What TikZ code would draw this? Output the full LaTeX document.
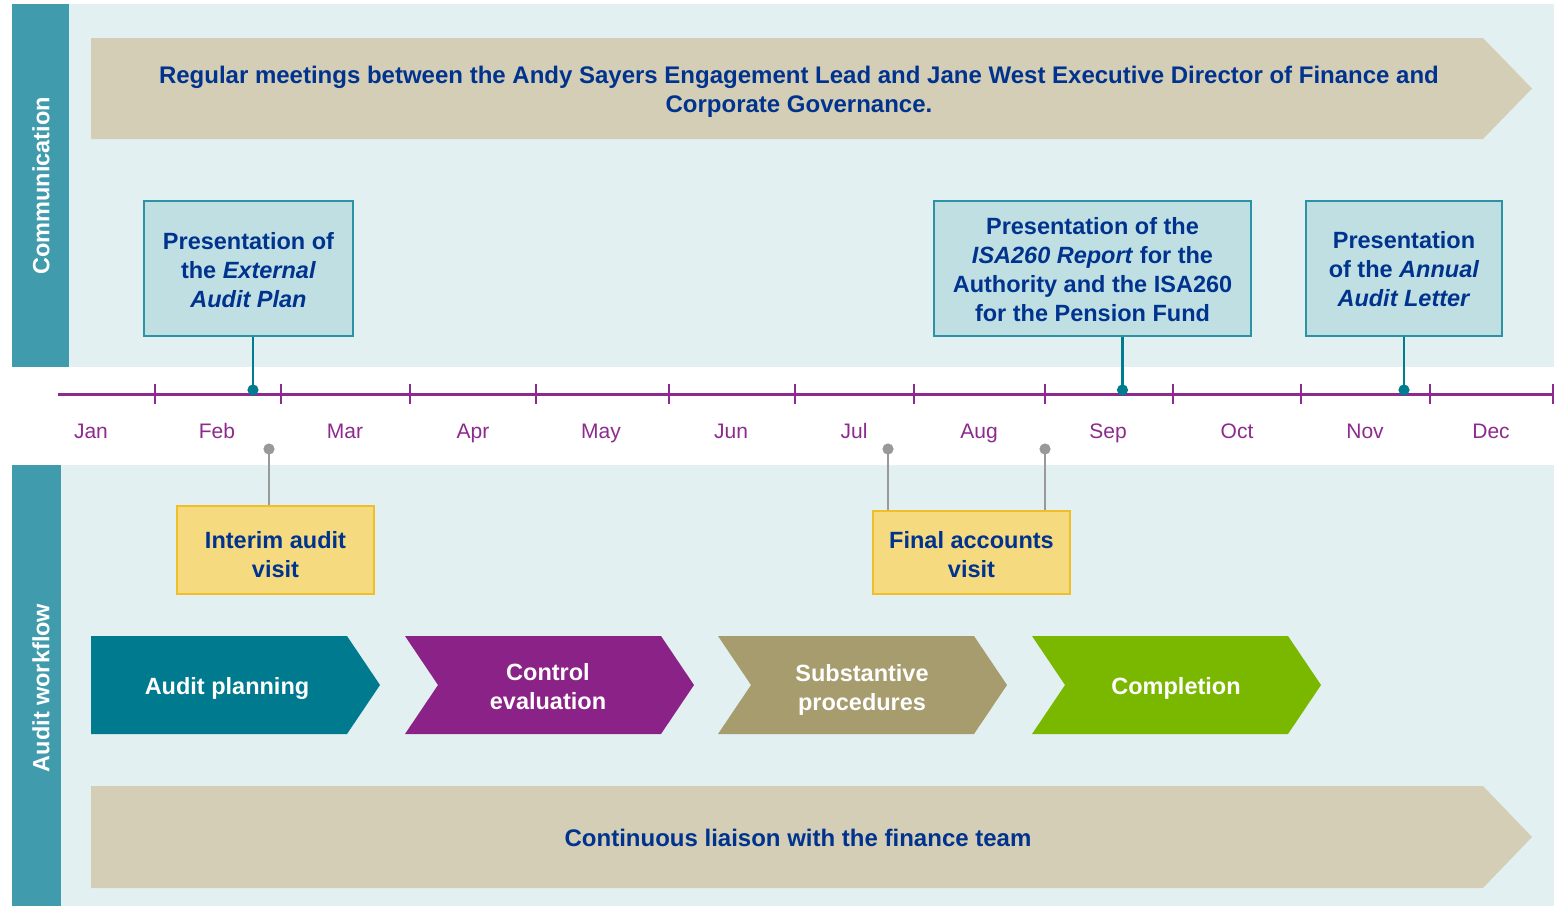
\documentclass[tikz,border=0pt]{standalone}
\usepackage{fontspec}
\setmainfont{Liberation Sans}
\usetikzlibrary{positioning}
\usetikzlibrary{arrows.meta}
\definecolor{sidebar}{HTML}{409CAD}
\definecolor{panelbg}{HTML}{E2F0F2}
\definecolor{tanbar}{HTML}{D4CEB7}
\definecolor{navy}{HTML}{00338D}
\definecolor{axispurple}{HTML}{8D2A8E}
\definecolor{boxfill}{HTML}{BFDFE3}
\definecolor{boxedge}{HTML}{2C93A5}
\definecolor{pinteal}{HTML}{007C91}
\definecolor{visitfill}{HTML}{F5DA80}
\definecolor{visitedge}{HTML}{F0BE28}
\definecolor{pingray}{HTML}{999999}
\definecolor{chevteal}{HTML}{007A8E}
\definecolor{chevpurple}{HTML}{8B2287}
\definecolor{chevolive}{HTML}{A69C6D}
\definecolor{chevgreen}{HTML}{7AB800}
\tikzstyle{sidelabel}=[rotate=90,text=white,font=\fontsize{23.5}{29}\selectfont\bfseries]
\tikzstyle{bannertext}=[text=navy,align=center,font=\fontsize{24}{29}\selectfont\bfseries]
\tikzstyle{event}=[rectangle,draw=boxedge,fill=boxfill,line width=1.5pt,inner sep=0pt]
\tikzstyle{visit}=[rectangle,draw=visitedge,fill=visitfill,line width=1.5pt,inner sep=0pt]
\tikzstyle{boxtext}=[align=center,text=navy,inner sep=0pt,font=\fontsize{23.5}{29}\selectfont\bfseries]
\tikzstyle{evpin}=[draw=pinteal,line width=2.5pt,-{Circle[length=11pt]}]
\tikzstyle{visitpin}=[draw=pingray,line width=2.5pt,-{Circle[length=11pt]}]
\tikzstyle{axisline}=[draw=axispurple,line width=3pt]
\tikzstyle{tick}=[draw=axispurple,line width=2.5pt]
\tikzstyle{month}=[anchor=base,text=axispurple,font=\fontsize{21}{25}\selectfont]
\tikzstyle{chevtext}=[text=white,align=center,font=\fontsize{23.5}{29}\selectfont\bfseries]

\begin{document}
\begin{tikzpicture}[x=1pt,y=-1pt]

    \useasboundingbox[fill=white] (0,0) rectangle (1559,906);

    % panels
    \fill[panelbg] (69,4) rectangle (1554,367);
    \fill[sidebar] (12,4) rectangle (69,367);
    \fill[panelbg] (61,465) rectangle (1554,906);
    \fill[sidebar] (12,465) rectangle (61,906);
    \node[sidelabel] (comm) at (41,186) {Communication};
    \node[sidelabel] (flow) at (41,688) {Audit workflow};

    % banners
    \fill[tanbar] (91,38) -- (1483,38) -- (1532,88.5) -- (1483,139) -- (91,139) -- cycle;
    \node[bannertext] (meetings) at (799,91.5) {Regular meetings between the Andy Sayers Engagement Lead and Jane West Executive Director of Finance and\\Corporate Governance.};
    \fill[tanbar] (91,786) -- (1483,786) -- (1532,837) -- (1483,888) -- (91,888) -- cycle;
    \node[bannertext] (liaison) at (798,838) {Continuous liaison with the finance team};

    % timeline
    \coordinate (tstart) at (58,394);
    \coordinate (tend) at (1553,394);
    \path[axisline] (tstart) -- (tend);
    \foreach \x in {155,281,410,536,669,795,914,1045,1173,1301,1430,1553}
        \path[tick] (\x,384) -- (\x,404);
    \foreach \x/\m in {91/Jan,217/Feb,345/Mar,473/Apr,601/May,731/Jun,854/Jul,979/Aug,1108/Sep,1237/Oct,1365/Nov,1491/Dec}
        \node[month] (\m) at (\x,438.5) {\m};

    % presentations
    \node[event,minimum width=209pt,minimum height=135pt] (plan) at (248.5,268.5) {};
    \node[event,minimum width=317pt,minimum height=135pt] (isa) at (1092.5,268.5) {};
    \node[event,minimum width=196pt,minimum height=135pt] (letter) at (1404,268.5) {};
    \node[boxtext] (plantext) at (248.5,270.5) {Presentation of\\the \textit{External}\\\textit{Audit Plan}};
    \node[boxtext] (isatext) at (1092.5,269.5) {Presentation of the\\\textit{ISA260 Report} for the\\Authority and the ISA260\\for the Pension Fund};
    \node[boxtext] (lettertext) at (1404,269.5) {Presentation\\of the \textit{Annual}\\\textit{Audit Letter}};

    \coordinate (pplan) at (253,395.5);
    \coordinate (pisa) at (1122.5,395.5);
    \coordinate (pletter) at (1404,395.5);
    \path[evpin] (pplan |- plan.south) -- (pplan);
    \path[evpin] (pisa |- isa.south) -- (pisa);
    \path[evpin] (pletter |- letter.south) -- (pletter);

    % visits
    \node[visit,minimum width=197pt,minimum height=88pt] (interim) at (275.5,550) {};
    \node[visit,minimum width=197pt,minimum height=83pt] (final) at (971.5,552.5) {};
    \node[boxtext] (interimtext) at (275.5,555) {Interim audit\\visit};
    \node[boxtext] (finaltext) at (971.5,554.5) {Final accounts\\visit};

    \coordinate (vinterim) at (269,443.5);
    \coordinate (vfinalA) at (888,443.5);
    \coordinate (vfinalB) at (1045,443.5);
    \path[visitpin] (vinterim |- interim.north) -- (vinterim);
    \path[visitpin] (vfinalA |- final.north) -- (vfinalA);
    \path[visitpin] (vfinalB |- final.north) -- (vfinalB);

    % workflow chevrons
    \foreach \x/\n/\col/\cx/\cy/\name/\label in {91/0/chevteal/227/688/planning/{Audit planning}, 405/33/chevpurple/548/687/control/{Control\\evaluation}, 718/33/chevolive/862/689.5/substantive/{Substantive\\procedures}, 1032/33/chevgreen/1176/688/completion/{Completion}}
    {
        \fill[\col] (\x,636) -- (\x+256,636) -- (\x+289,685) -- (\x+256,734) -- (\x,734) -- (\x+\n,685) -- cycle;
        \node[chevtext] (\name) at (\cx,\cy) {\label};
    }

\end{tikzpicture}
\end{document}
